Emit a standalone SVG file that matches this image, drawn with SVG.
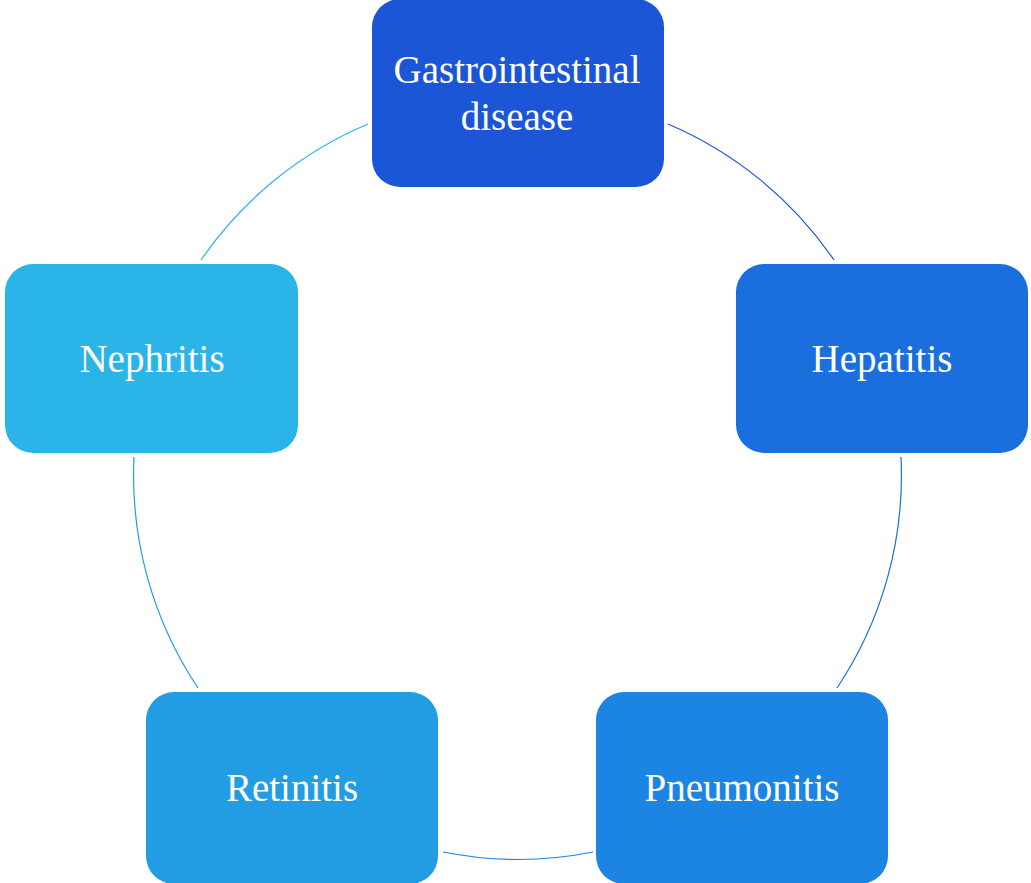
<svg xmlns="http://www.w3.org/2000/svg" width="1031" height="883" viewBox="0 0 1031 883">
<style>
.box{stroke:none}
.lbl{font-family:"Liberation Serif","DejaVu Serif",serif;font-size:39px;fill:#ffffff;text-anchor:middle}
.arc{fill:none;stroke-width:1.2}
</style>
<rect width="1031" height="883" fill="#ffffff"/>
<g id="connectors">
<path class="arc" stroke="#1A56D6" d="M668,124 A383,383 0 0 1 834,260"/>
<path class="arc" stroke="#1A6EDD" d="M901,457 A383,383 0 0 1 837,688"/>
<path class="arc" stroke="#1C84E3" d="M593,852 A383,383 0 0 1 443,852"/>
<path class="arc" stroke="#229DE3" d="M198,688 A383,383 0 0 1 134,457"/>
<path class="arc" stroke="#2AB4E8" d="M201,260 A383,383 0 0 1 368,124"/>
</g>
<g id="gastro">
<rect class="box" x="372" y="-1" width="292" height="188" rx="28" fill="#1A56D6"/>
<text class="lbl" x="517" y="83">Gastrointestinal</text>
<text class="lbl" x="517" y="130">disease</text>
</g>
<g id="hepatitis">
<rect class="box" x="736" y="264" width="292" height="189" rx="28" fill="#1A6EDD"/>
<text class="lbl" x="882" y="372">Hepatitis</text>
</g>
<g id="pneumonitis">
<rect class="box" x="596" y="692" width="292" height="192" rx="28" fill="#1C84E3"/>
<text class="lbl" x="742" y="801">Pneumonitis</text>
</g>
<g id="retinitis">
<rect class="box" x="146" y="692" width="292" height="192" rx="28" fill="#229DE3"/>
<text class="lbl" x="292" y="801">Retinitis</text>
</g>
<g id="nephritis">
<rect class="box" x="5" y="264" width="293" height="189" rx="28" fill="#2AB4E8"/>
<text class="lbl" x="152" y="372">Nephritis</text>
</g>
</svg>
